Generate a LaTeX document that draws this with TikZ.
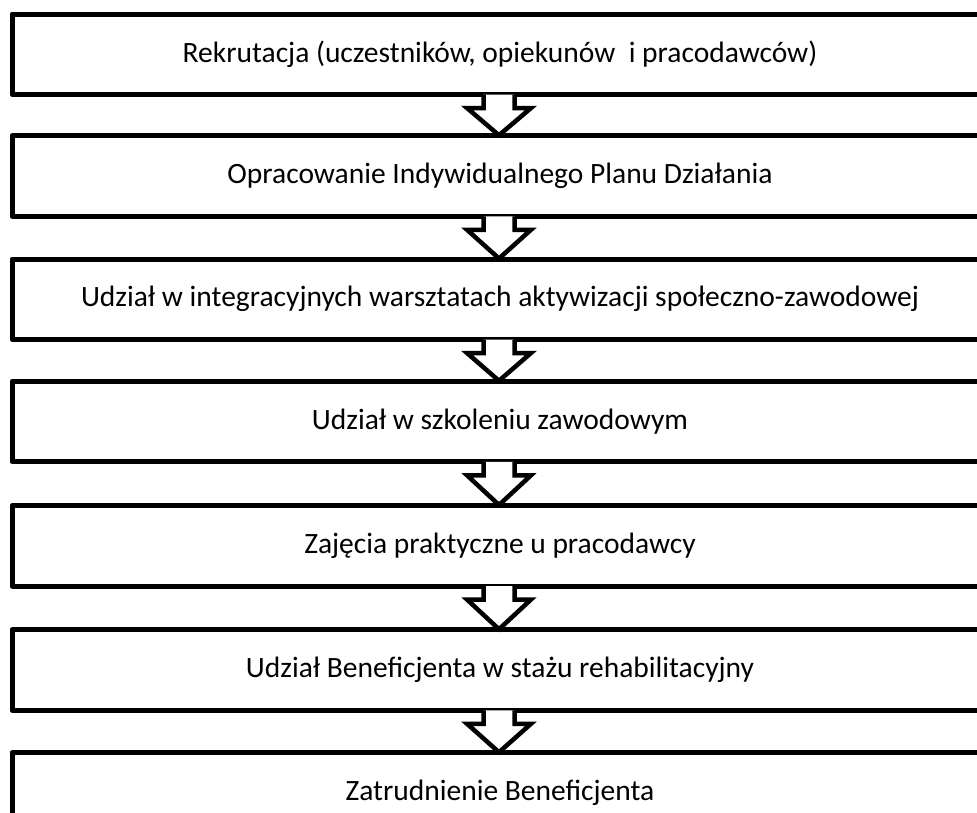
\documentclass[tikz,border=0pt]{standalone}
\usepackage{fontspec}
\setmainfont{Carlito}
\usetikzlibrary{calc}
\newcommand\blockarrow[2]{%
  \fill[white] ($(#1.south)+(-16.5,-2.5)$) -- ($(#1.south)+(-16.5,11)$) -- ($(#1.south)+(-33,11)$) -- ($(#2.north)+(-1,2)$) -- ($(#1.south)+(31,11)$) -- ($(#1.south)+(14.5,11)$) -- ($(#1.south)+(14.5,-2.5)$) -- cycle;
  \draw[arrowline] ($(#1.south)+(-16.5,-2.5)$) -- ($(#1.south)+(-16.5,11)$) -- ($(#1.south)+(-33,11)$) -- ($(#2.north)+(-1,2)$) -- ($(#1.south)+(31,11)$) -- ($(#1.south)+(14.5,11)$) -- ($(#1.south)+(14.5,-2.5)$);%
}
\begin{document}
\begin{tikzpicture}[x=1pt,y=-1pt]
\tikzset{
  box/.style={draw, line width=5pt, line join=round, minimum width=976pt, minimum height=80.5pt, inner sep=0pt, font=\fontsize{29.5}{35}\selectfont},
  arrowline/.style={draw, line width=4.5pt, line join=miter}
}
\useasboundingbox (0,0) rectangle (977,812);
\node[box] (b1) at (500,54.25) {Rekrutacja (uczestników, opiekunów~ i pracodawców)};
\node[box] (b2) at (500,176) {Opracowanie Indywidualnego Planu Działania};
\node[box] (b3) at (500,299.25) {Udział w integracyjnych warsztatach aktywizacji społeczno-zawodowej};
\node[box] (b4) at (500,421.5) {Udział w szkoleniu zawodowym};
\node[box] (b5) at (500,545.75) {Zajęcia praktyczne u pracodawcy};
\node[box] (b6) at (500,670) {Udział Beneficjenta w stażu rehabilitacyjny};
\node[box] (b7) at (500,793) {Zatrudnienie Beneficjenta};
\blockarrow{b1}{b2}
\blockarrow{b2}{b3}
\blockarrow{b3}{b4}
\blockarrow{b4}{b5}
\blockarrow{b5}{b6}
\blockarrow{b6}{b7}
\end{tikzpicture}
\end{document}
